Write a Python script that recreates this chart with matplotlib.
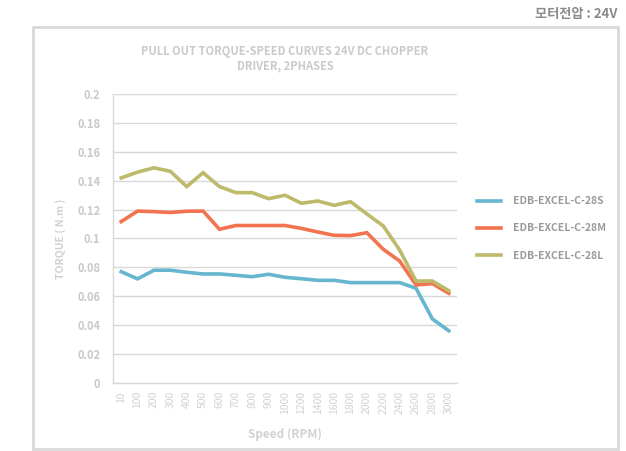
import matplotlib.pyplot as plt
from matplotlib.patches import Rectangle
import numpy as np

plt.rcParams['font.family'] = ['Noto Sans CJK KR', 'DejaVu Sans']

# Dados
speeds = ['10', '100', '200', '300', '400', '500', '600', '700', '800', '900',
          '1000', '1200', '1400', '1600', '1800', '2000', '2200', '2400', '2600', '2800', '3000']
torque_28s = [0.077, 0.072, 0.078, 0.078, 0.0766, 0.0754, 0.0754, 0.0745, 0.0735, 0.0752,
              0.0731, 0.0721, 0.0710, 0.0710, 0.0694, 0.0694, 0.0694, 0.0694, 0.0655, 0.0442, 0.036]
torque_28m = [0.1117, 0.119, 0.1186, 0.118, 0.1189, 0.119, 0.1064, 0.109, 0.109, 0.109,
              0.109, 0.107, 0.1045, 0.1022, 0.102, 0.104, 0.0925, 0.0844, 0.0678, 0.0687, 0.062]
torque_28l = [0.142, 0.146, 0.149, 0.1466, 0.136, 0.1456, 0.136, 0.1318, 0.1318, 0.1276,
              0.130, 0.1244, 0.126, 0.123, 0.1255, 0.117, 0.1087, 0.092, 0.0705, 0.0705, 0.0638]
series_names = ['EDB-EXCEL-C-28S', 'EDB-EXCEL-C-28M', 'EDB-EXCEL-C-28L']
cores = ['#66b6cf', '#f2734f', '#bdba6b']

fig = plt.figure(figsize=(6.26, 4.51), dpi=100)
ax = fig.add_axes([0.1805, 0.1514, 0.5495, 0.6396])

x = np.arange(len(speeds))
for vals, nome, cor in zip([torque_28s, torque_28m, torque_28l], series_names, cores):
    ax.plot(x, vals, color=cor, linewidth=2.6, label=nome, solid_joinstyle='miter')

ax.set_xlim(-0.5, len(speeds) - 0.5)
ax.set_ylim(0, 0.2)
ax.set_yticks(np.arange(0, 0.201, 0.02))
ax.set_yticklabels(['0', '0.02', '0.04', '0.06', '0.08', '0.1', '0.12', '0.14', '0.16', '0.18', '0.2'],
                   fontsize=8, fontweight='bold', color='#c8c8c8')
ax.set_xticks(x)
ax.set_xticklabels(speeds, rotation=90, fontsize=7.5, color='#d2d2d2')
ax.tick_params(length=0, pad=9)
ax.tick_params(axis='x', pad=6)

ax.grid(axis='y', color='#d9d9d9', linewidth=1)
ax.set_axisbelow(True)
for lado in ['top', 'right']:
    ax.spines[lado].set_visible(False)
for lado in ['left', 'bottom']:
    ax.spines[lado].set_color('#d9d9d9')
    ax.spines[lado].set_linewidth(1)

ax.set_ylabel('TORQUE ( N.m )', fontsize=7.5, fontweight='bold', color='#d2d2d2', labelpad=8)
ax.set_xlabel('Speed (RPM)', fontsize=8.5, fontweight='bold', color='#d2d2d2', labelpad=10)

ax.set_title('PULL OUT TORQUE-SPEED CURVES 24V DC CHOPPER\nDRIVER, 2PHASES',
             fontsize=8, fontweight='bold', color='#cacaca', pad=18, linespacing=1.1)

leg = ax.legend(loc='center left', bbox_to_anchor=(1.03, 0.535), frameon=False,
                fontsize=7.5, handlelength=2.3, labelspacing=1.65, handletextpad=1.2)
for txt in leg.get_texts():
    txt.set_color('#9a9a9a')
    txt.set_fontweight('bold')

# Moldura externa
fig.patches.append(Rectangle((33 / 626, 1 - 449 / 451), 585 / 626, 422 / 451,
                             transform=fig.transFigure, fill=False,
                             edgecolor='#d9d9d9', linewidth=2))

fig.text(617 / 626, 1 - 14 / 451, '모터전압 : 24V', ha='right', va='center',
         fontsize=9.5, fontweight='bold', color='#8a8a8a')

plt.savefig('out.png', dpi=100)
plt.close()
